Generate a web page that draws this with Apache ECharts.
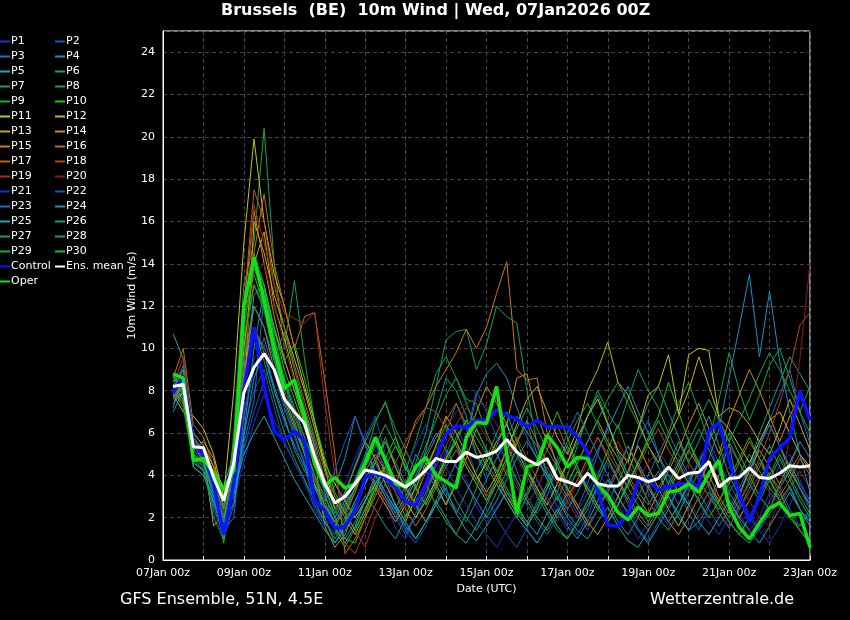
<!DOCTYPE html>
<html><head><meta charset="utf-8">
<script src="https://cdn.jsdelivr.net/npm/echarts@6/dist/echarts.min.js"></script>
<style>html,body{margin:0;padding:0;background:#000}#c{width:850px;height:620px}</style>
</head><body><div id="c"></div>
<script>
// forecast hours (6-hourly, +6h .. +384h)
const hours = Array.from({length: 64}, (_, k) => 6 * (k + 1));
const xTickLabels = ['07Jan 00z','09Jan 00z','11Jan 00z','13Jan 00z','15Jan 00z','17Jan 00z','19Jan 00z','21Jan 00z','23Jan 00z'];
const yTicks = [0,2,4,6,8,10,12,14,16,18,20,22,24];

const P1 = [7.8,8.5,5.2,4.8,3.0,1.8,3.5,7.0, 9.5,10.2,8.0,6.5,5.5,4.8,3.0,2.2, 1.5,2.5,3.8,4.2,3.5,2.8,1.5,1.0, 2.2,3.5,4.0,5.2,4.5,3.8,2.5,1.8, 2.5,3.2,2.8,1.5,0.8,1.6,2.4,3.5, 4.2,3.6,2.5,1.8,2.6,3.8,4.5,3.2, 2.4,1.6,2.2,3.5,4.8,5.5,4.2,3.0, 2.2,1.4,2.0,3.2,4.5,5.0,3.8,2.6];
const P2 = [7.5,8.0,5.6,5.0,3.4,2.5,4.0,6.2, 8.0,9.0,7.2,5.5,4.6,3.8,2.4,1.6, 2.0,3.0,4.5,5.8,6.8,5.0,3.6,2.8, 3.4,2.6,3.8,5.0,6.2,5.4,4.0,3.0, 2.0,1.2,0.6,1.5,2.8,3.6,2.5,1.8, 1.2,2.0,3.4,4.6,3.8,2.6,1.5,0.9, 1.8,2.6,3.4,2.2,1.4,2.5,3.6,2.8, 1.9,1.0,1.6,2.8,3.5,2.4,1.6,2.2];
const P3 = [8.0,9.2,6.0,5.4,2.8,1.0,2.6,5.5, 7.5,12.5,9.8,7.4,6.0,4.5,2.6,1.8, 1.2,2.0,3.2,4.8,5.6,4.0,2.5,1.4, 2.0,3.0,4.6,6.0,7.4,6.2,5.0,3.8, 4.8,5.6,4.2,3.0,2.2,3.0,4.4,3.2, 2.4,3.6,5.0,6.4,5.2,4.0,5.6,6.6, 5.0,3.6,2.6,3.8,4.6,3.4,2.2,1.5, 2.6,3.8,5.4,6.6,7.8,9.0,7.0,5.5];
const P4 = [7.2,8.8,5.5,4.6,3.6,2.2,3.0,6.0, 10.0,12.8,10.5,8.5,6.6,5.0,3.5,2.8, 3.5,4.8,6.8,5.5,4.0,3.2,2.4,3.6, 5.0,4.2,3.4,2.6,3.8,5.5,7.8,8.8, 9.3,8.6,7.2,6.0,5.4,4.2,3.0,2.2, 1.6,2.4,3.6,2.8,1.8,1.2,2.0,3.4, 4.2,3.0,2.2,1.4,1.8,2.6,4.0,5.5, 3.0,4.2,5.4,6.4,5.4,4.4,3.4,2.4];
const P5 = [10.7,9.5,5.8,5.2,4.2,3.5,5.0,8.5, 12.5,13.0,10.8,9.5,8.0,7.0,5.4,3.2, 1.5,0.8,1.6,2.8,4.0,3.2,2.4,1.6, 1.0,1.8,2.6,3.4,2.2,1.4,0.9,1.6, 2.4,3.2,2.5,1.8,1.2,2.2,3.0,2.0, 1.4,1.0,1.8,2.5,1.6,0.9,0.6,1.4, 2.2,3.0,2.0,1.4,2.4,3.2,2.6,1.8, 1.2,0.8,1.5,2.2,2.8,3.5,2.4,1.6];
const P6 = [8.5,7.8,4.6,4.3,3.2,2.0,3.8,9.0, 11.0,9.8,8.2,6.8,5.2,4.2,3.6,2.0, 0.8,1.4,2.2,3.0,2.4,1.6,1.0,2.0, 3.6,5.2,7.0,8.6,8.0,6.8,5.0,4.2, 5.4,6.5,5.0,4.0,3.0,2.2,1.4,1.0, 1.8,2.6,3.4,2.8,3.6,4.8,6.2,7.4, 8.2,7.0,5.8,4.6,5.6,6.8,5.4,4.0, 3.0,4.4,6.0,7.2,8.4,9.6,8.8,8.0];
const P7 = [7.9,8.2,5.0,4.4,2.6,1.6,4.5,10.0, 13.0,12.0,9.5,10.8,9.0,7.2,5.6,3.8, 2.4,1.6,2.8,3.6,4.6,5.8,4.4,3.2, 4.6,6.0,8.2,10.4,10.8,10.9,9.0,10.2, 12.0,11.5,11.2,8.0,5.5,4.0,3.2,4.6, 5.6,6.8,7.8,6.5,5.0,4.0,3.2,2.6, 3.4,4.4,5.6,4.6,3.8,3.0,2.4,3.2, 4.0,5.0,4.2,3.4,2.8,2.0,1.6,2.4];
const P8 = [8.2,7.5,4.8,4.4,2.0,1.0,6.0,13.0, 15.0,20.4,14.0,10.0,13.2,9.5,6.5,4.5, 3.0,2.2,3.4,4.8,6.5,7.5,5.8,4.2, 5.6,7.2,8.8,9.6,8.6,7.6,7.4,6.0, 5.0,4.0,5.5,6.5,5.0,3.8,2.8,4.0, 5.4,6.8,8.0,7.0,6.2,7.6,9.0,8.0, 7.2,6.0,7.4,8.4,7.0,5.6,7.6,9.8, 8.0,6.6,7.8,9.2,10.0,8.6,7.0,8.2];
const P9 = [8.0,8.6,5.4,5.0,3.8,2.6,4.0,9.5, 14.5,13.0,10.5,8.5,7.0,5.5,4.0,2.5, 1.4,0.6,1.5,2.4,3.6,4.4,3.2,2.0, 2.8,3.6,2.6,1.8,1.2,2.2,3.4,4.8, 6.0,7.0,5.6,4.4,3.4,2.4,1.6,1.0, 1.8,2.8,4.0,5.2,6.4,5.0,3.8,2.8, 2.0,1.4,2.2,3.2,4.2,3.6,2.6,1.8, 1.2,2.0,3.0,4.0,3.2,2.2,1.4,0.8];
const P10 = [8.8,8.0,4.4,4.0,3.0,1.8,5.0,11.5, 13.5,12.0,11.0,9.0,7.6,6.2,5.0,3.5, 2.0,1.0,0.8,2.0,3.2,4.8,5.8,4.6, 3.4,2.6,3.6,4.8,5.8,6.6,5.4,4.4, 3.6,2.8,2.0,3.0,4.2,5.8,7.0,5.8, 4.4,3.2,2.4,1.8,2.6,3.6,4.6,5.8, 6.8,8.4,7.0,5.6,4.4,3.6,4.8,6.0, 5.0,4.0,3.0,2.4,3.6,4.6,3.6,2.8];
const P11 = [7.8,7.0,6.8,6.2,5.0,3.0,8.0,15.0, 19.9,16.0,13.5,12.0,10.0,8.2,6.5,4.6, 3.6,2.8,2.0,2.8,3.6,4.4,3.6,2.8, 2.0,2.8,3.8,4.8,5.6,4.6,3.8,4.6, 5.6,6.4,5.2,4.2,3.4,2.6,3.6,4.6, 5.8,6.8,7.6,6.4,5.2,4.6,6.2,7.8, 8.2,9.7,6.9,9.7,10.0,9.9,6.7,6.2, 5.4,4.6,5.6,6.6,7.0,6.0,5.0,4.4];
const P12 = [8.3,7.6,6.0,5.4,4.4,3.4,3.8,7.5, 16.0,14.5,12.5,11.0,9.5,8.0,6.2,4.4, 2.4,3.2,4.4,5.6,4.8,3.6,2.6,1.8, 3.0,4.2,5.4,6.8,6.0,5.0,4.0,3.2, 4.0,5.2,6.4,7.6,8.2,7.0,5.8,5.0, 6.2,8.0,9.0,10.3,8.4,7.8,6.6,5.4, 4.6,5.8,6.8,8.0,9.6,8.2,6.8,7.2, 7.0,6.4,5.6,5.0,6.2,7.6,6.4,5.2];
const P13 = [7.6,8.2,5.2,5.6,4.8,2.4,4.2,10.0, 14.0,15.5,12.0,10.5,8.6,7.0,5.2,3.8, 2.8,2.0,1.2,2.2,3.4,2.6,1.8,2.6, 3.4,4.6,3.6,2.6,3.6,4.8,6.2,5.2, 4.0,3.0,2.2,1.6,2.4,3.4,4.4,3.4, 2.6,1.8,1.2,2.0,3.0,4.2,5.4,4.4, 3.4,2.4,1.6,2.6,3.6,4.6,3.8,2.8, 2.0,2.8,3.8,4.6,5.4,4.2,3.4,2.6];
const P14 = [8.0,7.4,5.8,5.0,1.6,2.2,5.5,12.0, 16.5,14.0,11.5,9.5,8.0,6.4,4.8,1.6, 0.6,1.2,2.4,3.6,4.6,5.6,4.4,3.4, 2.6,1.8,2.6,3.6,4.6,5.6,7.0,8.2, 7.4,6.4,8.6,8.8,6.8,5.6,4.6,3.6, 4.6,5.6,6.6,5.6,4.8,3.8,3.0,2.2, 3.2,4.2,5.2,6.4,7.4,6.2,5.0,6.6, 7.8,9.0,8.0,6.8,5.6,6.8,7.8,6.6];
const P15 = [7.4,8.0,5.0,4.6,4.0,3.0,3.4,8.5, 12.0,11.0,9.0,7.6,6.2,5.0,3.6,2.6, 1.8,2.6,3.4,4.2,5.0,4.2,3.4,5.2, 6.6,7.2,8.2,9.0,9.8,10.9,10.0,11.0, 12.6,14.1,9.0,8.5,8.6,6.0,4.4,3.4, 2.4,1.6,2.4,3.4,4.4,5.4,4.4,3.4, 2.6,1.8,1.2,2.0,3.0,4.0,3.0,2.2, 3.2,4.2,5.2,4.4,3.6,4.6,5.6,4.8];
const P16 = [8.6,10.0,6.4,5.8,4.4,2.8,3.6,9.0, 14.5,17.3,14.0,12.0,10.0,11.5,11.7,8.5, 5.0,0.3,1.0,2.0,3.0,4.0,3.2,2.4, 1.6,2.4,3.4,4.4,5.2,4.4,3.6,2.8, 3.6,4.6,5.6,6.6,5.6,4.6,3.8,3.0, 3.8,4.8,5.8,4.8,3.8,3.0,2.2,1.6, 2.4,3.2,4.2,5.2,4.4,3.6,2.8,3.6, 4.6,5.6,4.8,4.0,3.4,4.2,5.0,4.2];
const P17 = [8.0,9.0,5.6,5.0,3.4,2.0,5.0,12.0, 17.5,16.0,13.0,11.0,9.2,7.5,5.8,4.2, 3.0,2.2,3.2,4.4,3.6,2.8,2.0,2.8, 3.8,4.8,5.8,6.6,7.4,6.4,5.4,4.6, 3.8,3.0,2.4,3.2,4.2,5.2,6.4,5.2, 4.2,3.2,2.4,3.2,4.2,5.4,4.4,3.4, 2.6,3.4,4.4,5.6,4.6,3.6,2.8,2.0, 2.8,3.6,4.6,3.8,3.0,3.8,4.8,4.0];
const P18 = [7.7,8.4,5.4,4.8,3.6,2.4,4.6,8.5, 11.0,10.0,9.0,8.0,6.8,5.4,4.0,2.8, 1.6,0.8,0.3,1.4,2.6,3.6,4.6,5.6, 6.4,7.2,7.0,6.2,5.4,4.6,3.8,3.0, 3.8,4.8,5.8,4.8,3.8,2.8,2.0,2.8, 3.8,4.8,5.8,5.0,4.2,3.4,4.4,5.4, 6.2,5.2,4.4,3.6,2.8,3.6,4.6,5.4, 4.6,3.8,4.8,6.0,7.4,9.0,11.1,11.7];
const P19 = [8.2,9.6,5.8,5.2,4.0,2.6,4.2,10.5, 16.8,15.0,13.0,11.7,11.4,11.2,11.7,7.5, 4.0,2.4,1.4,0.6,2.0,3.0,4.0,3.2, 2.4,3.4,4.4,5.4,6.4,7.2,6.6,5.8, 5.0,4.2,3.4,2.6,3.4,4.4,3.6,2.8, 2.0,2.8,3.8,4.8,5.6,4.6,3.6,2.8, 2.0,2.8,3.6,4.6,3.8,3.0,2.2,1.6, 2.4,3.2,4.0,3.2,2.6,3.4,4.2,3.4];
const P20 = [7.9,8.8,5.5,4.9,3.8,2.2,4.4,9.5, 13.5,14.0,12.0,10.2,8.4,6.8,5.2,3.6, 2.6,1.8,2.8,3.8,4.8,4.0,3.2,2.4, 3.2,4.2,5.2,6.2,7.0,7.4,7.6,7.2, 6.4,5.6,4.8,4.0,3.2,2.4,1.8,2.6, 3.6,4.6,3.8,3.0,2.2,3.0,3.8,4.6, 5.2,4.4,3.6,2.8,2.0,2.8,3.6,4.4, 3.6,2.8,2.0,1.6,3.0,6.0,9.5,14.0];
const P21 = [8.1,8.4,4.8,4.4,2.2,1.2,2.8,4.6, 6.5,7.8,6.6,5.6,4.6,3.6,2.6,1.6, 2.4,3.6,4.8,6.0,5.2,4.4,3.6,4.4, 5.4,6.4,5.4,4.4,3.4,2.6,1.8,1.2, 0.6,1.4,2.2,3.0,3.8,3.0,2.2,1.4, 2.2,3.2,4.2,3.4,2.6,1.8,1.0,1.8, 2.8,3.8,4.8,3.8,2.8,1.8,1.2,2.0, 3.0,2.2,1.4,0.8,1.6,2.6,3.6,2.8];
const P22 = [7.4,7.8,5.6,5.2,3.8,2.8,3.8,5.2, 7.0,8.5,9.6,8.2,7.0,5.8,4.4,3.2, 4.2,5.6,6.8,5.4,4.2,3.2,2.2,1.4, 0.8,1.6,2.6,3.6,4.6,5.8,8.0,7.0, 5.8,4.6,3.6,2.6,1.8,1.2,2.0,3.0, 2.2,1.4,2.4,3.4,4.4,5.4,4.6,3.6, 2.6,1.8,2.6,3.6,4.6,5.6,4.6,3.6, 2.8,2.0,1.4,2.4,3.4,4.4,5.6,4.8];
const P23 = [8.3,8.0,5.2,4.6,3.0,1.4,2.0,6.8, 9.0,10.5,8.8,7.2,5.8,4.6,3.4,2.4, 1.6,2.6,3.8,5.0,4.0,3.0,2.0,1.2, 2.2,3.2,4.2,3.2,2.4,1.8,2.8,3.8, 4.8,5.8,6.8,5.8,4.8,3.8,4.8,6.0, 7.0,6.0,5.0,4.0,3.0,2.2,3.0,4.0, 5.0,6.0,5.0,4.0,3.2,2.4,1.6,2.4, 3.4,4.4,5.4,6.4,5.4,4.4,3.4,2.6];
const P24 = [7.6,8.6,5.4,5.0,3.4,2.0,2.6,5.8, 8.6,9.8,8.0,6.6,5.4,4.4,3.4,2.6, 1.8,1.0,1.8,2.8,3.8,3.0,2.2,3.0, 4.0,5.0,6.0,5.2,4.4,3.6,2.8,2.0, 2.8,3.8,4.8,5.6,4.8,4.0,3.2,2.4, 3.2,4.2,5.2,6.2,7.2,8.2,7.0,6.0, 5.0,4.0,3.2,2.6,3.6,4.8,6.2,8.6, 11.0,13.5,9.6,12.7,9.4,7.0,5.0,3.2];
const P25 = [7.0,8.0,4.4,4.0,2.8,1.6,3.2,5.0, 6.0,6.8,5.8,4.8,3.8,3.0,2.2,1.4, 0.8,1.6,2.6,3.6,4.6,3.6,2.6,1.8, 1.0,1.8,2.8,2.0,1.2,0.8,1.6,2.6, 3.6,2.8,2.0,1.4,0.8,1.6,2.4,1.6, 1.0,1.8,2.8,3.8,3.0,2.2,1.4,0.8, 1.6,2.4,3.4,2.6,1.8,1.2,2.0,2.8, 2.0,1.4,0.8,1.6,2.4,3.2,2.4,1.8];
const P26 = [8.4,9.0,6.0,5.4,3.8,2.6,4.2,9.5, 12.0,11.0,9.4,7.8,6.4,5.2,4.0,3.0, 2.0,2.8,3.8,4.8,5.8,4.8,3.8,2.8, 3.8,4.8,3.8,3.0,2.2,3.2,4.2,5.2, 4.2,3.2,2.4,1.6,2.4,3.4,4.4,5.4, 4.4,3.4,2.6,1.8,2.6,3.6,4.6,3.6, 2.6,1.8,2.6,3.6,4.6,5.6,6.6,5.6, 4.6,3.6,2.8,3.8,4.8,3.8,2.8,2.0];
const P27 = [8.6,8.2,4.8,4.2,2.4,1.4,3.6,8.0, 11.0,9.4,7.6,6.0,4.8,3.8,2.8,1.8, 1.0,1.8,2.8,3.8,4.8,5.6,4.6,3.6, 2.6,1.8,2.8,3.8,2.8,2.0,1.4,2.2, 3.2,4.2,5.2,4.2,3.2,2.4,1.6,1.0, 1.8,2.8,3.8,4.8,3.8,2.8,2.0,1.4, 2.2,3.2,4.2,5.2,6.2,5.2,4.2,3.2, 2.4,3.4,4.4,5.4,4.4,3.4,2.4,1.8];
const P28 = [8.0,7.2,4.6,4.2,3.6,2.4,5.5,11.0, 13.8,12.5,10.0,8.6,7.2,5.8,4.6,3.4, 2.2,3.2,4.4,5.6,6.6,7.4,6.2,5.2, 4.2,5.4,6.6,7.8,8.6,7.4,6.2,5.2, 4.2,5.2,6.2,7.2,6.2,5.2,4.4,3.6, 4.6,5.6,6.6,7.6,8.4,7.4,6.4,5.4, 4.4,3.6,4.6,5.6,6.6,7.6,6.6,5.6, 6.6,7.6,8.8,9.8,9.0,8.0,7.0,6.0];
const P29 = [7.8,8.4,5.0,4.6,3.2,1.8,4.8,10.5, 13.0,11.8,9.6,7.8,6.4,5.0,3.8,2.6, 1.6,2.4,3.4,4.4,5.4,6.4,5.4,4.4, 3.4,2.6,3.6,4.6,5.6,6.6,5.8,5.0, 4.2,3.4,2.6,1.8,2.6,3.6,4.6,5.6, 6.6,7.4,6.4,5.4,4.4,3.4,2.6,1.8, 2.6,3.6,4.6,5.6,4.6,3.6,2.6,1.8, 1.2,2.0,3.0,4.0,5.0,4.0,3.0,2.2];
const P30 = [8.7,7.8,4.8,4.6,3.4,0.8,4.0,12.0, 14.0,13.0,11.0,9.4,10.2,8.6,6.6,4.8, 3.2,2.2,1.4,2.4,3.4,4.4,5.4,4.4, 3.4,4.4,5.4,6.4,5.4,4.4,3.6,2.8, 3.8,4.8,3.8,2.8,2.0,1.4,2.2,3.2, 4.2,3.4,2.6,1.8,2.6,3.6,4.6,5.6, 6.6,5.6,4.6,3.6,2.8,2.0,2.8,3.8, 4.8,5.8,4.8,3.8,2.8,2.0,1.4,0.8];

const control = [7.9,8.7,5.5,5.0,3.6,1.2,3.6,8.0, 11.0,8.2,6.1,5.65,6.1,5.65,2.8,2.35, 1.5,1.55,2.35,3.9,4.1,3.9,3.45,2.75, 2.6,3.6,4.85,5.95,6.35,6.25,6.6,6.6, 7.1,6.85,6.65,6.3,6.6,6.3,6.3,6.3, 5.8,5.1,3.3,1.65,1.6,2.2,3.75,3.8, 3.3,3.45,3.6,3.6,3.5,6.1,6.5,4.7, 3.15,1.8,3.0,4.8,5.3,5.75,8.0,6.6];
const oper = [8.8,8.6,4.7,4.8,4.1,3.3,4.25,12.0, 14.3,12.3,10.0,8.1,8.5,6.75,4.55,3.5, 3.9,3.4,3.6,4.55,5.8,4.7,3.6,3.45, 4.4,4.85,4.0,3.7,3.4,5.8,6.5,6.45, 8.2,5.0,2.2,4.4,4.55,5.9,5.3,4.4, 4.85,4.8,3.55,3.05,2.25,1.9,2.5,2.1, 2.2,3.2,3.3,3.6,3.2,4.1,4.7,2.5, 1.55,1.0,1.75,2.45,2.7,2.1,2.2,0.6];
const ensMean = [8.2,8.3,5.35,5.3,3.9,2.8,4.6,7.9, 9.1,9.75,9.0,7.6,7.0,6.45,4.9,3.6, 2.7,3.0,3.6,4.25,4.15,4.0,3.75,3.45, 3.8,4.25,4.8,4.65,4.65,5.1,4.85,4.95, 5.15,5.7,5.1,4.75,4.5,4.8,3.85,3.7, 3.5,4.1,3.6,3.5,3.5,4.0,3.9,3.7, 3.85,4.4,3.85,4.1,4.15,4.65,3.45,3.85, 3.9,4.35,3.9,3.85,4.1,4.45,4.4,4.45];

const members = [P1,P2,P3,P4,P5,P6,P7,P8,P9,P10,P11,P12,P13,P14,P15,P16,P17,P18,P19,P20,P21,P22,P23,P24,P25,P26,P27,P28,P29,P30];
const memberNames = members.map((_, k) => 'P' + (k + 1));

// styles
const palette20 = ['#1c30c8','#1a52c2','#1a70c0','#1892c4','#16a8b4','#12a086','#12a068','#12a64c','#14b226','#1cc41c',
                   '#c4c414','#c8b414','#c8a214','#c89214','#c87c14','#c26c14','#c05c14','#b44418','#a42c1a','#8c1a1a'];
const FONT = 'DejaVu Sans';

const series = members.map((vals, k) => ({
  name: memberNames[k], type: 'line', color: palette20[k % 20],
  data: vals.map((v, j) => [hours[j], v]),
  showSymbol: false, silent: true, lineStyle: {width: 1}, z: 2
}));
series.push({name: 'Control', type: 'line', color: '#0a14ff', data: control.map((v, j) => [hours[j], v]),
  showSymbol: false, silent: true, lineStyle: {width: 3.5}, z: 3});
series.push({name: 'Oper', type: 'line', color: '#14e014', data: oper.map((v, j) => [hours[j], v]),
  showSymbol: false, silent: true, lineStyle: {width: 3.5}, z: 4});
series.push({name: 'Ens. mean', type: 'line', color: '#ffffff', data: ensMean.map((v, j) => [hours[j], v]),
  showSymbol: false, silent: true, lineStyle: {width: 3}, z: 5});

const leftCol = memberNames.filter((_, k) => k % 2 === 0).concat(['Control', 'Oper']);
const rightCol = memberNames.filter((_, k) => k % 2 === 1).concat(['Ens. mean']);
const legendBase = {orient: 'vertical', top: 35, itemWidth: 10, itemHeight: 2, itemGap: 2, icon: 'rect', padding: 0,
  textStyle: {color: '#fff', fontSize: 11, lineHeight: 13, fontFamily: FONT, padding: [0, 0, 0, -4]}, inactiveColor: '#555'};

const chart = echarts.init(document.getElementById('c'));
chart.setOption({
  backgroundColor: '#000',
  animation: false,
  title: [
    {text: 'Brussels  (BE)  10m Wind | Wed, 07Jan2026 00Z', left: 221, top: 3, padding: 0,
     textStyle: {color: '#fff', fontSize: 16, fontWeight: 'bold', fontFamily: FONT}},
    {text: 'GFS Ensemble, 51N, 4.5E', left: 120, top: 592, padding: 0,
     textStyle: {color: '#fff', fontSize: 16, fontWeight: 'normal', fontFamily: FONT}},
    {text: 'Wetterzentrale.de', left: 650, top: 592, padding: 0,
     textStyle: {color: '#fff', fontSize: 16, fontWeight: 'normal', fontFamily: FONT}}
  ],
  legend: [
    Object.assign({}, legendBase, {left: 0, data: leftCol}),
    Object.assign({}, legendBase, {left: 55, data: rightCol})
  ],
  grid: {left: 163, right: 40, top: 31, bottom: 60, show: true, borderColor: '#fff', borderWidth: 1, backgroundColor: '#000'},
  xAxis: {
    type: 'value', min: 0, max: 384, interval: 24,
    name: 'Date (UTC)', nameLocation: 'middle', nameGap: 23,
    nameTextStyle: {color: '#fff', fontSize: 11, fontFamily: FONT},
    axisLine: {show: true, lineStyle: {color: '#fff'}},
    axisTick: {show: true, inside: true, length: 4, lineStyle: {color: '#fff'}},
    axisLabel: {color: '#fff', fontSize: 11, fontFamily: FONT, margin: 8, hideOverlap: false,
      formatter: v => (v % 48 === 0 ? xTickLabels[v / 48] : '')},
    splitLine: {show: true, lineStyle: {color: '#444', type: [4, 3], width: 1}}
  },
  yAxis: {
    type: 'value', min: 0, max: 25, interval: 2,
    name: '10m Wind (m/s)', nameLocation: 'middle', nameGap: 25, nameMoveOverlap: false,
    nameTextStyle: {color: '#fff', fontSize: 11, fontFamily: FONT},
    axisLine: {show: true, lineStyle: {color: '#fff'}},
    axisTick: {show: false},
    axisLabel: {color: '#fff', fontSize: 11, fontFamily: FONT, margin: 8, showMaxLabel: false,
      formatter: v => (yTicks.indexOf(v) >= 0 ? String(v) : '')},
    splitLine: {show: true, lineStyle: {color: '#444', type: [4, 3], width: 1}}
  },
  series: series
});
</script></body></html>
